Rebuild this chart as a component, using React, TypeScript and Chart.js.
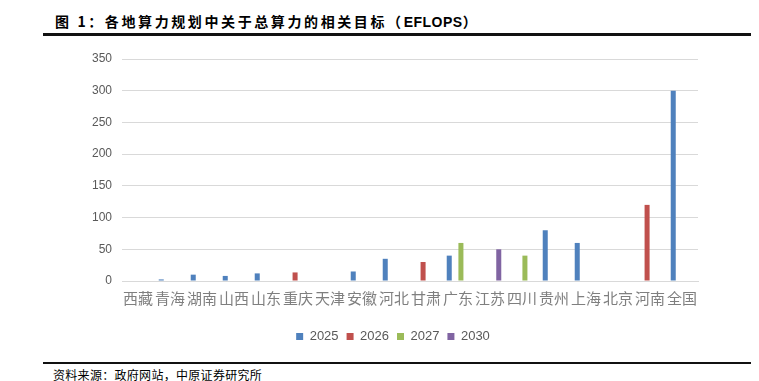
import React, { useEffect, useRef } from "react";
import { Chart, registerables } from "chart.js";

Chart.register(...registerables);

const categories = ["西藏", "青海", "湖南", "山西", "山东", "重庆", "天津", "安徽", "河北", "甘肃", "广东", "江苏", "四川", "贵州", "上海", "北京", "河南", "全国"];
const s2025 = [null, 2.5, 10, 8, 12, null, null, 15, 35, null, 40, null, null, 80, 60, null, null, 300];
const s2026 = [null, null, null, null, null, 13.5, null, null, null, 30, null, null, null, null, null, null, 120, null];
const s2027 = [null, null, null, null, null, null, null, null, null, null, 60, null, 40, null, null, null, null, null];
const s2030 = [null, null, null, null, null, null, null, null, null, null, null, 50, null, null, null, null, null, null];
const seriesNames = ["2025", "2026", "2027", "2030"];
const yTicks = [0, 50, 100, 150, 200, 250, 300, 350];

const titlePrefix = "图 1：各地算力规划中关于总算力的相关目标（";
const titleUnit = "EFLOPS";
const titleSuffix = "）";
const sourceText = "资料来源：政府网站，中原证券研究所";

const legendShift = {
  id: "legendShift",
  afterLayout(chart: any) {
    const lg = chart.legend;
    if (lg) {
      lg.left += 44;
      lg.right += 44;
    }
  },
};

export default function App() {
  const ref = useRef<HTMLCanvasElement>(null);
  useEffect(() => {
    const colors = ["#4F81BD", "#C0504D", "#9BBB59", "#8064A2"];
    const data = [s2025, s2026, s2027, s2030];
    const chart = new Chart(ref.current!, {
      type: "bar",
      data: {
        labels: categories,
        datasets: seriesNames.map((n, i) => ({
          label: n,
          data: data[i],
          backgroundColor: colors[i],
          borderWidth: 0,
          categoryPercentage: 0.73,
          barPercentage: 0.86,
        })),
      },
      plugins: [legendShift],
      options: {
        animation: false,
        responsive: false,
        maintainAspectRatio: false,
        layout: { padding: { left: 0, right: 61, top: 19, bottom: 4 } },
        plugins: {
          legend: {
            position: "bottom",
            labels: {
              boxWidth: 7,
              boxHeight: 7,
              padding: 8,
              color: "#595959",
              font: { family: "'Liberation Sans', Arial, sans-serif", size: 13 },
            },
          },
          tooltip: { enabled: false },
        },
        scales: {
          x: {
            grid: { display: false, drawTicks: false },
            border: { display: true, color: "#d9d9d9", width: 1 },
            ticks: {
              color: "#7f7f7f",
              padding: 8,
              maxRotation: 0,
              autoSkip: false,
              font: { family: "'Noto Sans CJK SC', sans-serif", size: 15 },
            },
            afterFit: (s: any) => { s.height = 41; },
          },
          y: {
            min: 0,
            max: 350,
            afterBuildTicks: (s: any) => { s.ticks = yTicks.map((v) => ({ value: v })); },
            grid: { color: "#d9d9d9", drawTicks: false },
            border: { display: false },
            ticks: {
              color: "#595959",
              padding: 10,
              font: { family: "'Liberation Sans', Arial, sans-serif", size: 12 },
            },
            afterFit: (s: any) => { s.width = 122; },
          },
        },
      },
    });
    return () => chart.destroy();
  }, []);

  return (
    <div style={{ position: "fixed", left: 0, top: 0, width: 759, height: 381, background: "#fff", overflow: "hidden" }}>
      <div style={{ position: "absolute", left: 55, top: 11, fontFamily: "'Noto Sans CJK SC', sans-serif", fontWeight: 700, fontSize: 14, lineHeight: "20px", letterSpacing: 2.6, color: "#000", whiteSpace: "nowrap" }}>
        {titlePrefix}
        <span style={{ fontFamily: "'Liberation Sans', Arial, sans-serif", letterSpacing: 0.5 }}>{titleUnit}</span>
        {titleSuffix}
      </div>
      <div style={{ position: "absolute", left: 43, top: 33, width: 708, height: 3, background: "#111" }} />
      <canvas ref={ref} width={759} height={317} style={{ position: "absolute", left: 0, top: 40, width: 759, height: 317 }} />
      <div style={{ position: "absolute", left: 43, top: 362, width: 708, height: 2, background: "#111" }} />
      <div style={{ position: "absolute", left: 53, top: 368, fontFamily: "'Noto Sans CJK SC', sans-serif", fontSize: 12, lineHeight: "14px", letterSpacing: 0.3, color: "#000", whiteSpace: "nowrap" }}>{sourceText}</div>
    </div>
  );
}
